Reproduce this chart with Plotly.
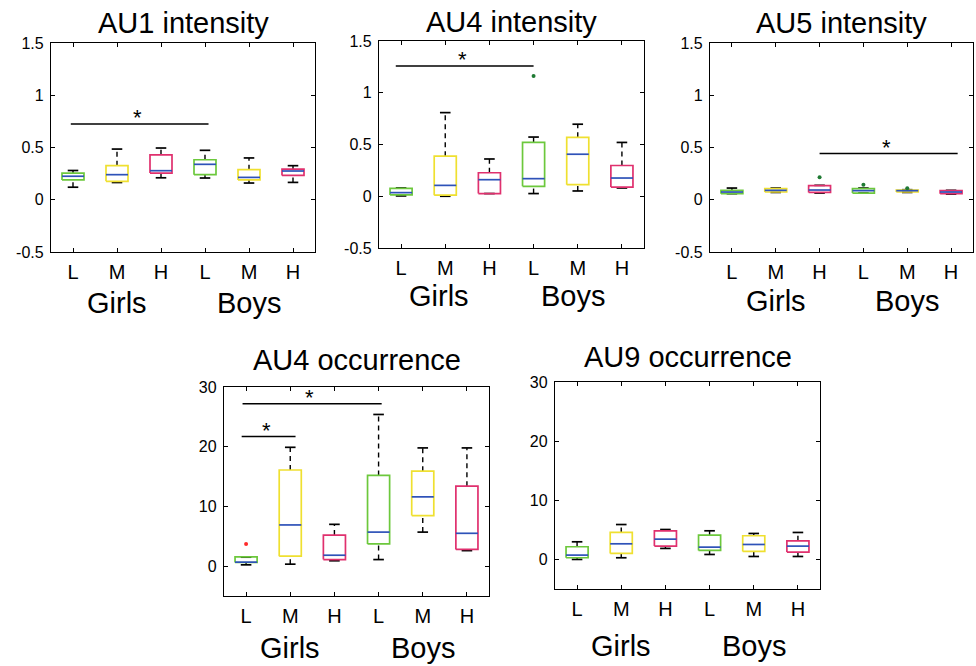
import plotly.graph_objects as go

W, H = 976, 666

# ---------------- data ----------------
levels = ["L", "M", "H", "L", "M", "H"]
groups = ["Girls", "Boys"]
positions = [1, 2, 3, 4, 5, 6]

# AU1 intensity
au1_lower = [0.12, 0.165, 0.21, 0.208, 0.16, 0.166]
au1_q1 = [0.19, 0.176, 0.255, 0.24, 0.19, 0.233]
au1_median = [0.225, 0.24, 0.278, 0.339, 0.214, 0.275]
au1_q3 = [0.255, 0.326, 0.43, 0.383, 0.288, 0.294]
au1_upper = [0.28, 0.485, 0.495, 0.473, 0.40, 0.326]
au1_outliers = [[], [], [], [], [], []]

# AU4 intensity
au4i_lower = [0.003, 0.0, 0.026, 0.026, 0.051, 0.08]
au4i_q1 = [0.013, 0.01, 0.026, 0.096, 0.112, 0.089]
au4i_median = [0.035, 0.105, 0.16, 0.17, 0.406, 0.176]
au4i_q3 = [0.077, 0.387, 0.227, 0.52, 0.569, 0.297]
au4i_upper = [0.08, 0.808, 0.36, 0.572, 0.696, 0.52]
au4i_outliers = [[], [], [], [1.163], [], []]

# AU5 intensity
au5_lower = [0.058, 0.07, 0.064, 0.064, 0.07, 0.054]
au5_q1 = [0.058, 0.074, 0.07, 0.064, 0.074, 0.058]
au5_median = [0.074, 0.09, 0.093, 0.087, 0.087, 0.074]
au5_q3 = [0.09, 0.106, 0.135, 0.106, 0.093, 0.087]
au5_upper = [0.112, 0.112, 0.138, 0.112, 0.096, 0.09]
au5_outliers = [[], [], [0.215], [0.144], [0.109], []]

# AU4 occurrence
au4o_lower = [0.22, 0.33, 0.9, 1.1, 5.7, 2.6]
au4o_q1 = [0.61, 1.67, 1.1, 3.72, 8.46, 2.8]
au4o_median = [0.67, 6.9, 1.83, 5.7, 11.6, 5.5]
au4o_q3 = [1.56, 16.1, 5.2, 15.2, 15.9, 13.4]
au4o_upper = [1.5, 19.9, 7.0, 25.4, 19.8, 19.8]
au4o_outliers = [[3.7], [], [], [], [], []]

# AU9 occurrence
au9_lower = [0.0, 0.28, 1.86, 0.84, 0.5, 0.5]
au9_q1 = [0.28, 1.01, 2.25, 1.52, 1.35, 1.24]
au9_median = [0.73, 2.64, 3.43, 2.08, 2.53, 2.25]
au9_q3 = [2.14, 4.56, 4.84, 4.1, 4.0, 3.15]
au9_upper = [2.98, 5.9, 5.06, 4.84, 4.39, 4.56]
au9_outliers = [[], [], [], [], [], []]

# significance bars: (x_start, x_end, y)
au1_sig = [(0.95, 4.08, 0.725)]
au4i_sig = [(0.88, 4.0, 1.259)]
au5_sig = [(3.0, 6.15, 0.442)]
au4o_sig = [(0.92, 4.07, 27.2), (0.9, 2.12, 21.7)]
au9_sig = []

# ---------------- styling ----------------
FONT = "Liberation Sans, Arial, Helvetica, sans-serif"
level_colors = {"L": "#6cc83c", "M": "#efe030", "H": "#e0306e"}
median_color = "#2e52b8"
outlier_colors = {"au4i": "#1f7a33", "au5": "#1f7a33", "au4o": "#ff2a2a"}

# panel boxes in pixels: left, right, top, bottom
panels = [
    dict(key="au1", title="AU1 intensity", px=(51, 315, 43, 252), yr=[-0.5, 1.5],
         yt=[-0.5, 0, 0.5, 1, 1.5], ytt=["-0.5", "0", "0.5", "1", "1.5"],
         data=(au1_lower, au1_q1, au1_median, au1_q3, au1_upper, au1_outliers), sig=au1_sig,
         title_y=23, lab_y=303, gpos=[2, 5]),
    dict(key="au4i", title="AU4 intensity", px=(379, 644, 41, 248), yr=[-0.5, 1.5],
         yt=[-0.5, 0, 0.5, 1, 1.5], ytt=["-0.5", "0", "0.5", "1", "1.5"],
         data=(au4i_lower, au4i_q1, au4i_median, au4i_q3, au4i_upper, au4i_outliers), sig=au4i_sig,
         title_y=22, lab_y=296, gpos=[1.85, 4.9]),
    dict(key="au5", title="AU5 intensity", px=(710, 973, 43, 252), yr=[-0.5, 1.5],
         yt=[-0.5, 0, 0.5, 1, 1.5], ytt=["-0.5", "0", "0.5", "1", "1.5"],
         data=(au5_lower, au5_q1, au5_median, au5_q3, au5_upper, au5_outliers), sig=au5_sig,
         title_y=23, lab_y=301, gpos=[2, 5]),
    dict(key="au4o", title="AU4 occurrence", px=(224, 489, 387, 596), yr=[-5, 30],
         yt=[0, 10, 20, 30], ytt=["0", "10", "20", "30"],
         data=(au4o_lower, au4o_q1, au4o_median, au4o_q3, au4o_upper, au4o_outliers), sig=au4o_sig,
         title_y=360, lab_y=648, gpos=[2, 5]),
    dict(key="au9", title="AU9 occurrence", px=(555, 820, 382, 589), yr=[-5, 30],
         yt=[0, 10, 20, 30], ytt=["0", "10", "20", "30"],
         data=(au9_lower, au9_q1, au9_median, au9_q3, au9_upper, au9_outliers), sig=au9_sig,
         title_y=357, lab_y=646, gpos=[2, 5]),
]

BW = 0.25   # half box width
CW = 0.12   # half cap width

fig = go.Figure()
layout = dict(width=W, height=H, margin=dict(l=0, r=0, t=0, b=0, pad=0, autoexpand=False),
              paper_bgcolor="white", plot_bgcolor="white", showlegend=False,
              font=dict(family=FONT, color="black"))
annotations = []

for k, p in enumerate(panels):
    n = "" if k == 0 else str(k + 1)
    xa, ya = "x" + n, "y" + n
    l, r, t, b = p["px"]
    lo, q1, med, q3, hi, outs = p["data"]

    # whiskers (dashed)
    wx, wy = [], []
    for i, pos in enumerate(positions):
        wx += [pos, pos, None, pos, pos, None]
        wy += [q3[i], hi[i], None, lo[i], q1[i], None]
    fig.add_trace(go.Scatter(x=wx, y=wy, mode="lines", xaxis=xa, yaxis=ya,
                             line=dict(color="black", width=1.4, dash="5px,4px"), hoverinfo="skip"))
    # caps
    cx, cy = [], []
    for i, pos in enumerate(positions):
        cx += [pos - CW, pos + CW, None, pos - CW, pos + CW, None]
        cy += [hi[i], hi[i], None, lo[i], lo[i], None]
    fig.add_trace(go.Scatter(x=cx, y=cy, mode="lines", xaxis=xa, yaxis=ya,
                             line=dict(color="black", width=1.7), hoverinfo="skip"))
    # boxes per level colour
    for lev in ["L", "M", "H"]:
        bx, by = [], []
        for i, pos in enumerate(positions):
            if levels[i] != lev:
                continue
            bx += [pos - BW, pos + BW, pos + BW, pos - BW, pos - BW, None]
            by += [q1[i], q1[i], q3[i], q3[i], q1[i], None]
        fig.add_trace(go.Scatter(x=bx, y=by, mode="lines", xaxis=xa, yaxis=ya,
                                 line=dict(color=level_colors[lev], width=1.7), hoverinfo="skip"))
    # medians
    mx, my = [], []
    for i, pos in enumerate(positions):
        mx += [pos - BW, pos + BW, None]
        my += [med[i], med[i], None]
    fig.add_trace(go.Scatter(x=mx, y=my, mode="lines", xaxis=xa, yaxis=ya,
                             line=dict(color=median_color, width=1.7), hoverinfo="skip"))
    # outliers
    ox, oy = [], []
    for i, pos in enumerate(positions):
        for v in outs[i]:
            ox.append(pos)
            oy.append(v)
    if ox:
        fig.add_trace(go.Scatter(x=ox, y=oy, mode="markers", xaxis=xa, yaxis=ya,
                                 marker=dict(color=outlier_colors.get(p["key"], "red"), size=4),
                                 hoverinfo="skip"))
    # significance bars
    for (x0, x1, yv) in p["sig"]:
        fig.add_trace(go.Scatter(x=[x0, x1], y=[yv, yv], mode="lines", xaxis=xa, yaxis=ya,
                                 line=dict(color="black", width=1.6), hoverinfo="skip"))
        annotations.append(dict(x=(x0 + x1) / 2 - 0.05, y=yv, xref=xa, yref=ya, text="*",
                                showarrow=False, yanchor="middle", yshift=6,
                                font=dict(size=22, family=FONT, color="black")))

    axis_common = dict(showline=True, linecolor="black", linewidth=1.3, mirror="ticks",
                       ticks="inside", ticklen=4, tickwidth=1.2, tickcolor="black",
                       showgrid=False, zeroline=False, fixedrange=True, automargin=False)
    layout["xaxis" + n] = dict(axis_common, domain=[l / W, r / W], anchor=ya, range=[0.5, 6.5],
                               tickvals=positions, ticktext=levels,
                               tickfont=dict(size=20, family=FONT, color="black"),
                               ticklabelstandoff=2)
    layout["yaxis" + n] = dict(axis_common, domain=[1 - b / H, 1 - t / H], anchor=xa, range=p["yr"],
                               tickvals=p["yt"], ticktext=p["ytt"],
                               tickfont=dict(size=16, family=FONT, color="black"),
                               ticklabelstandoff=3)
    # title
    annotations.append(dict(x=(l + r) / 2 / W, y=1 - p["title_y"] / H, xref="paper", yref="paper",
                            text=p["title"], showarrow=False, xanchor="center", yanchor="middle",
                            font=dict(size=29, family=FONT, color="black")))
    # group labels
    for gname, gpos in zip(groups, p["gpos"]):
        annotations.append(dict(x=gpos, y=1 - p["lab_y"] / H, xref=xa, yref="paper",
                                text=gname, showarrow=False, xanchor="center", yanchor="middle",
                                font=dict(size=29, family=FONT, color="black")))

layout["annotations"] = annotations
fig.update_layout(**layout)
fig.write_html("out.html",
               post_script="document.body.style.margin='0';document.body.style.padding='0';")
